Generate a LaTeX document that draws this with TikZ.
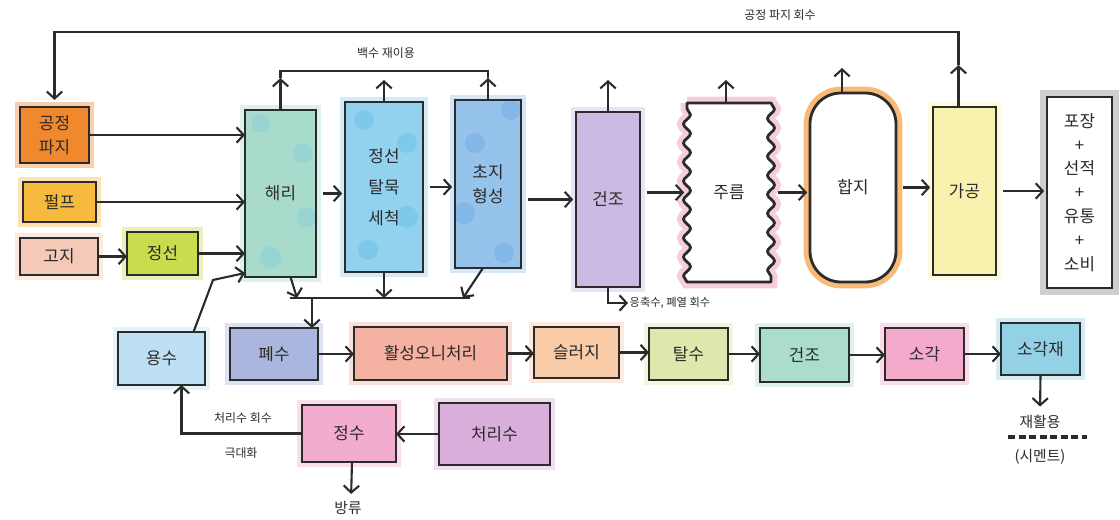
\documentclass[tikz,border=0pt]{standalone}
\usepackage{fontspec}
\setmainfont{Noto Sans CJK KR}
\usepackage{tikz}
\usetikzlibrary{arrows.meta, positioning, decorations.pathmorphing, backgrounds}

\definecolor{ink}{HTML}{2B2B2B}
\definecolor{cScrap}{HTML}{F0892D}
\definecolor{cPulp}{HTML}{F6BA3F}
\definecolor{cOld}{HTML}{F5C9B7}
\definecolor{cScreen}{HTML}{CBDB4E}
\definecolor{cPulper}{HTML}{A9DBCC}
\definecolor{sPulper}{HTML}{8BCFD6}
\definecolor{cDeink}{HTML}{92D2EE}
\definecolor{sDeink}{HTML}{6EC2E8}
\definecolor{cForm}{HTML}{95C3EC}
\definecolor{sForm}{HTML}{73AEE6}
\definecolor{cDry}{HTML}{C9B9E3}
\definecolor{cConvert}{HTML}{F8F2AE}
\definecolor{glowPink}{HTML}{F2B6D1}
\definecolor{glowOrange}{HTML}{F6AE62}
\definecolor{glowGray}{HTML}{A8A8A8}
\definecolor{cFresh}{HTML}{BDE0F5}
\definecolor{cWaste}{HTML}{AAB6DE}
\definecolor{cSludgeProc}{HTML}{F5B1A2}
\definecolor{cSludge}{HTML}{F9CBA7}
\definecolor{cDewater}{HTML}{DFE8AC}
\definecolor{cDryTwo}{HTML}{ACDDCC}
\definecolor{cBurn}{HTML}{F4AACB}
\definecolor{cAsh}{HTML}{93D2E6}
\definecolor{cPurify}{HTML}{F2ACCD}
\definecolor{cTreated}{HTML}{D9AEDB}

\newlength{\pxu}
\setlength{\pxu}{0.025cm}

\begin{document}
\begin{tikzpicture}[
    x=0.025cm, y=-0.025cm,
    frame/.style = {
        draw=ink,
        line width=2pt,
        align=center,
        inner sep=2pt,
        outer sep=0pt,
        text=ink,
        font=\fontsize{12}{17}\selectfont
    },
    box/.style = {frame, fill=#1, preaction={draw=#1, line width=7pt, draw opacity=0.4}},
    dims/.style 2 args = {minimum width=#1*\pxu, minimum height=#2*\pxu},
    flow/.style = {draw=ink, line width=1.5pt, -{Straight Barb[length=5pt, width=11pt]}},
    link/.style = {draw=ink, line width=1.5pt},
    gap/.style = {shorten <=5pt, shorten >=2pt},
    note/.style = {font=\fontsize{8.5}{10}\selectfont, text=ink, inner sep=1pt},
    tag/.style = {font=\fontsize{10.5}{12}\selectfont, text=ink, inner sep=1pt},
    wavy/.style = {decorate, decoration={snake, segment length=19*\pxu, amplitude=3.5*\pxu}}
]
\useasboundingbox (0,0) rectangle (1120,520);

\node [box=cScrap, dims={69}{56}] (scrap) at (54.5,135) {공정\\파지};
\node [box=cPulp, dims={73}{40}] (pulp) at (59.5,202) {펄프};
\node [box=cOld, dims={78}{37}] (oldpaper) at (59,256.5) {고지};
\node [box=cScreen, dims={71}{43}] (screen) at (162.5,253.5) {정선};

\node [box=cPulper, dims={71}{167}, path picture={
        \fill[sPulper, fill opacity=0.55] ([shift={(22,-40)}]path picture bounding box.center) circle[radius=10];
        \fill[sPulper, fill opacity=0.55] ([shift={(-20,-70)}]path picture bounding box.center) circle[radius=9];
        \fill[sPulper, fill opacity=0.55] ([shift={(26,24)}]path picture bounding box.center) circle[radius=10];
        \fill[sPulper, fill opacity=0.55] ([shift={(-10,64)}]path picture bounding box.center) circle[radius=11];
    }] (pulper) at (280.5,193.5) {해리};
\node [box=cDeink, dims={78}{170}, path picture={
        \fill[sDeink, fill opacity=0.55] ([shift={(-20,-67)}]path picture bounding box.center) circle[radius=10];
        \fill[sDeink, fill opacity=0.55] ([shift={(23,-44)}]path picture bounding box.center) circle[radius=10];
        \fill[sDeink, fill opacity=0.55] ([shift={(23,30)}]path picture bounding box.center) circle[radius=11];
        \fill[sDeink, fill opacity=0.55] ([shift={(-16,63)}]path picture bounding box.center) circle[radius=10];
    }] (deink) at (384,187) {정선\\[5pt]탈묵\\[5pt]세척};
\node [box=cForm, dims={66}{168}, path picture={
        \fill[sForm, fill opacity=0.55] ([shift={(23,-74)}]path picture bounding box.center) circle[radius=10];
        \fill[sForm, fill opacity=0.55] ([shift={(-13,-41)}]path picture bounding box.center) circle[radius=10];
        \fill[sForm, fill opacity=0.55] ([shift={(-24,29)}]path picture bounding box.center) circle[radius=11];
        \fill[sForm, fill opacity=0.55] ([shift={(16,69)}]path picture bounding box.center) circle[radius=10];
    }] (forming) at (488,184) {초지\\형성};

\node [box=cDry, dims={64}{175}] (dryer) at (608,199.5) {건조};
\node [frame, draw=none, dims={84}{179}] (crepe) at (729,192.5) {주름};
\node [frame, fill=white, rounded corners=22pt, preaction={draw=glowOrange, line width=9pt, draw opacity=0.85},
    dims={86}{189}] (laminate) at (853,187.5) {합지};
\node [box=cConvert, dims={63}{168}] (convert) at (964.5,191) {가공};
\node [frame, fill=white, preaction={draw=glowGray, line width=10pt, draw opacity=0.55},
    dims={65}{191}] (ship) at (1079.5,192.5) {포장\\+\\선적\\+\\유통\\+\\소비};

\begin{scope}[on background layer]
\draw[draw=ink, line width=2pt, fill=white, line join=round,
    preaction={draw=glowPink, line width=9pt, draw opacity=0.7}]
    (crepe.north west) -- (crepe.north east) decorate[wavy]{-- (crepe.south east)}
    -- (crepe.south west) decorate[wavy]{-- (crepe.north west)} -- cycle;
\end{scope}

\node [box=cFresh, dims={87}{53}] (fresh) at (161.5,358.5) {용수};
\node [box=cWaste, dims={88}{52}] (waste) at (274,354) {폐수};
\node [box=cSludgeProc, dims={153}{53}] (activated) at (430.5,353.5) {활성오니처리};
\node [box=cSludge, dims={85}{51}] (sludge) at (576.5,352.5) {슬러지};
\node [box=cDewater, dims={79}{52}] (dewater) at (688.5,354) {탈수};
\node [box=cDryTwo, dims={89}{54}] (drytwo) at (804.5,355) {건조};
\node [box=cBurn, dims={79}{52}] (burn) at (924.5,354) {소각};
\node [box=cAsh, dims={79}{52}] (ash) at (1040.5,349) {소각재};
\node [box=cPurify, dims={94}{57}] (purify) at (349,433.5) {정수};
\node [box=cTreated, dims={111}{62}] (treated) at (494.5,434) {처리수};

\node [note] (recovery) at (780,15) {공정 파지 회수};
\node [note] (whitewater) at (386,53) {백수 재이용};
\node [note, font=\fontsize{8}{10}\selectfont, anchor=west] (condensate) at (628,303) {응축수, 폐열 회수};
\node [note] (reclaim) at (243,418) {처리수 회수};
\node [note] (maximize) at (241,453) {극대화};
\node [tag] (discharge) at (348,508) {방류};
\node [tag] (recycle) at (1040,422) {재활용};
\node [tag] (cement) at (1040,457) {(시멘트)};

\draw[flow] (scrap.east) -- (pulper.west |- scrap.east);
\draw[flow] (pulp.east) -- (pulper.west |- pulp.east);
\draw[flow] (oldpaper.east) -- (screen.west |- oldpaper.east);
\draw[flow] (screen.east) -- (pulper.west |- screen.east);

\draw[flow, gap] (pulper.east) -- (deink.west |- pulper.east);
\draw[flow, gap] (deink.east) -- (forming.west |- deink.east);
\draw[flow, gap] (forming.east |- dryer.west) -- (dryer.west);
\draw[flow, gap] (dryer.east |- crepe.west) -- (crepe.west);
\draw[flow, gap] (crepe.east) -- (laminate.west |- crepe.east);
\draw[flow, gap] (laminate.east) -- (convert.west |- laminate.east);
\draw[flow, gap] (convert.east) -- (ship.west |- convert.east);

\draw[flow] (pulper.north) -- ++(0,-32) coordinate (ventPulper);
\draw[flow] (deink.north) -- ++(0,-22);
\draw[flow] (forming.north) -- ++(0,-22) coordinate (ventForming);
\draw[link] (ventPulper) -- ++(0,-7) -| (ventForming);

\draw[flow] (dryer.north) -- ++(0,-32);
\draw[flow] ([shift={(-3,0)}]crepe.north) -- ++(0,-23);
\draw[flow] ([shift={(-11,0)}]laminate.north) -- ++(0,-25);
\draw[flow] ([shift={(-6,0)}]convert.north) -- ++(0,-42) coordinate (ventConvert);
\draw[flow, shorten >=5pt] (ventConvert) -- ++(0,-33) -| (scrap.north);

\draw[flow] (dryer.south) |- (condensate.west);

\coordinate (collectL) at (290,298);
\coordinate (collectR) at (470,298);
\coordinate (collectD) at (312,298);
\draw[link] (collectL) -- (collectR);
\draw[flow] ([shift={(10,0)}]pulper.south) -- ([shift={(7,0)}]collectL);
\draw[flow] (deink.south) -- (deink.south |- collectL);
\draw[flow] ([shift={(-5,0)}]forming.south) -- ([shift={(-7,0)}]collectR);
\draw[flow] (collectD) -- (waste.north -| collectD);

\coordinate (freshBend) at (213,280);
\draw[flow] ([shift={(32,0)}]fresh.north) -- (freshBend) -- ([shift={(0,-4)}]pulper.south west);

\draw[flow] (waste.east) -- (activated.west |- waste.east);
\draw[flow] (activated.east) -- (sludge.west |- activated.east);
\draw[flow] (sludge.east) -- (dewater.west |- sludge.east);
\draw[flow] (dewater.east) -- (drytwo.west |- dewater.east);
\draw[flow] (drytwo.east) -- (burn.west |- drytwo.east);
\draw[flow] (burn.east) -- (ash.west |- burn.east);

\draw[flow] (treated.west) -- (purify.east |- treated.west);
\draw[flow] (purify.west) -| ([shift={(20,0)}]fresh.south);
\draw[flow, shorten >=4pt] ([shift={(3,0)}]purify.south) -- ([shift={(3,0)}]discharge.north);

\draw[flow, shorten >=5pt] (ash.south) -- (recycle.north);
\coordinate (sepL) at (1008,437);
\coordinate (sepR) at (1087,437);
\draw[ink, line width=2.2pt, dash pattern=on 5pt off 2.5pt] (sepL) -- (sepR);

\end{tikzpicture}
\end{document}
